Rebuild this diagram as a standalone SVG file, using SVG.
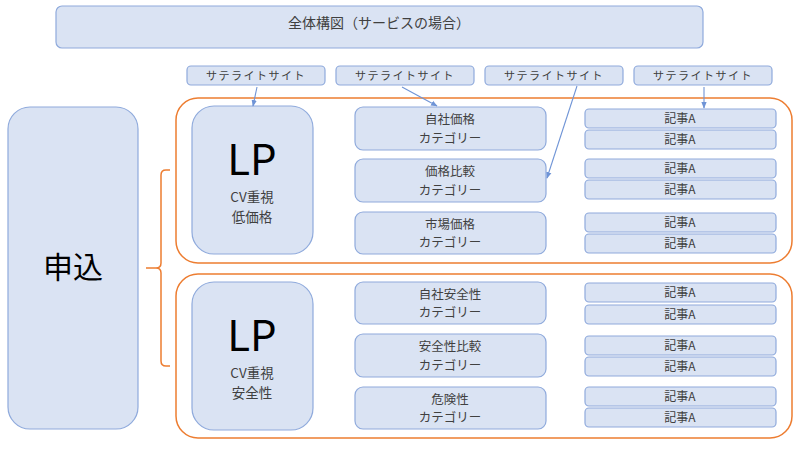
<svg xmlns="http://www.w3.org/2000/svg" width="800" height="449" viewBox="0 0 800 449">
<defs>
<style>
.b{fill:#dae3f3;stroke:#8faadc;stroke-width:1.2}
.g{fill:none;stroke:#ed7d31;stroke-width:1.5}
text{font-family:"Noto Sans CJK JP","Noto Sans",sans-serif;fill:#404040;text-anchor:middle}
.t{font-size:14px}
.s{font-size:11px;letter-spacing:1.5px}
.c{font-size:12.5px}
.a{font-size:12px}
.lp{font-size:42px;fill:#000}
.cv{font-size:13.5px}
.m{font-size:30px;fill:#000}
.ar{stroke:#6f94d6;stroke-width:1.1;fill:none;marker-end:url(#ah)}
</style>
<marker id="ah" viewBox="0 0 10 10" refX="9" refY="5" markerWidth="6" markerHeight="6" orient="auto"><path d="M0,1 L10,5 L0,9 z" fill="#6f94d6"/></marker>
</defs>
<rect width="800" height="449" fill="#fff"/>
<g id="title"><rect class="b" x="56" y="6" width="647" height="42" rx="6"/><text class="t" x="379" y="28">全体構図（サービスの場合）</text></g>
<g id="sat1"><rect class="b" x="187" y="66" width="138" height="19" rx="4"/><text class="s" x="256" y="80">サテライトサイト</text></g>
<g id="sat2"><rect class="b" x="336" y="66" width="138" height="19" rx="4"/><text class="s" x="405" y="80">サテライトサイト</text></g>
<g id="sat3"><rect class="b" x="485" y="66" width="138" height="19" rx="4"/><text class="s" x="554" y="80">サテライトサイト</text></g>
<g id="sat4"><rect class="b" x="634" y="66" width="138" height="19" rx="4"/><text class="s" x="703" y="80">サテライトサイト</text></g>
<g id="group1"><rect class="g" x="176" y="98" width="616" height="165" rx="22"/></g>
<g id="group2"><rect class="g" x="176" y="274" width="616" height="164" rx="22"/></g>
<g id="moushikomi"><rect class="b" x="8" y="107" width="130" height="322" rx="22"/><text class="m" x="73" y="278">申込</text></g>
<g id="lp1"><rect class="b" x="192" y="106" width="121" height="148" rx="22"/><text class="lp" x="252" y="175">LP</text><text class="cv" x="252" y="202">CV重視</text><text class="cv" x="252" y="222">低価格</text></g>
<g id="lp2"><rect class="b" x="192" y="282" width="121" height="148" rx="22"/><text class="lp" x="252" y="351">LP</text><text class="cv" x="252" y="378">CV重視</text><text class="cv" x="252" y="398">安全性</text></g>
<g id="cat1"><rect class="b" x="355" y="107" width="191" height="43" rx="8"/><text class="c" x="450" y="124">自社価格</text><text class="c" x="450" y="142.5">カテゴリー</text></g>
<g id="cat2"><rect class="b" x="355" y="159" width="191" height="43" rx="8"/><text class="c" x="450" y="176">価格比較</text><text class="c" x="450" y="194.5">カテゴリー</text></g>
<g id="cat3"><rect class="b" x="355" y="212" width="191" height="42" rx="8"/><text class="c" x="450" y="228.5">市場価格</text><text class="c" x="450" y="247">カテゴリー</text></g>
<g id="cat4"><rect class="b" x="355" y="282" width="191" height="42" rx="8"/><text class="c" x="450" y="298.5">自社安全性</text><text class="c" x="450" y="317">カテゴリー</text></g>
<g id="cat5"><rect class="b" x="355" y="334" width="191" height="43" rx="8"/><text class="c" x="450" y="351">安全性比較</text><text class="c" x="450" y="369.5">カテゴリー</text></g>
<g id="cat6"><rect class="b" x="355" y="387" width="191" height="42" rx="8"/><text class="c" x="450" y="403.5">危険性</text><text class="c" x="450" y="422">カテゴリー</text></g>
<g id="art1"><rect class="b" x="585" y="109" width="191" height="19" rx="4"/><text class="a" x="680" y="123">記事A</text></g>
<g id="art2"><rect class="b" x="585" y="130" width="191" height="19" rx="4"/><text class="a" x="680" y="144">記事A</text></g>
<g id="art3"><rect class="b" x="585" y="159" width="191" height="19" rx="4"/><text class="a" x="680" y="173">記事A</text></g>
<g id="art4"><rect class="b" x="585" y="180" width="191" height="19" rx="4"/><text class="a" x="680" y="194">記事A</text></g>
<g id="art5"><rect class="b" x="585" y="213" width="191" height="19" rx="4"/><text class="a" x="680" y="227">記事A</text></g>
<g id="art6"><rect class="b" x="585" y="234" width="191" height="19" rx="4"/><text class="a" x="680" y="248">記事A</text></g>
<g id="art7"><rect class="b" x="585" y="283" width="191" height="19" rx="4"/><text class="a" x="680" y="297">記事A</text></g>
<g id="art8"><rect class="b" x="585" y="305" width="191" height="19" rx="4"/><text class="a" x="680" y="319">記事A</text></g>
<g id="art9"><rect class="b" x="585" y="336" width="191" height="19" rx="4"/><text class="a" x="680" y="350">記事A</text></g>
<g id="art10"><rect class="b" x="585" y="357" width="191" height="19" rx="4"/><text class="a" x="680" y="371">記事A</text></g>
<g id="art11"><rect class="b" x="585" y="387" width="191" height="19" rx="4"/><text class="a" x="680" y="401">記事A</text></g>
<g id="art12"><rect class="b" x="585" y="408" width="191" height="19" rx="4"/><text class="a" x="680" y="422">記事A</text></g>
<g id="connectors">
<path class="g" d="M170,170 H166 Q161,170 161,175 V263 Q161,268 156,268 H146 M156,268 Q161,268 161,273 V361 Q161,366 166,366 H170"/>
<line class="ar" x1="257" y1="87" x2="253" y2="106"/>
<line class="ar" x1="402" y1="87" x2="437" y2="106"/>
<line class="ar" x1="577" y1="86" x2="547" y2="178"/>
<line class="ar" x1="704" y1="87" x2="704" y2="108"/>
</g>
</svg>
